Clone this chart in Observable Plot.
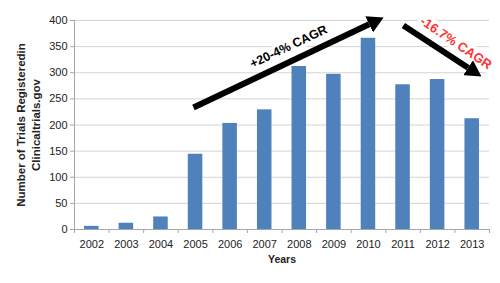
<!DOCTYPE html>
<html>
<head>
<meta charset="utf-8">
<script src="https://cdn.jsdelivr.net/npm/d3@7"></script>
<script src="https://cdn.jsdelivr.net/npm/@observablehq/plot@0.6"></script>
<style>
  html, body { margin: 0; padding: 0; background: #fff; }
</style>
</head>
<body>
<div id="chart"></div>
<script>
// Data
const years = [2002, 2003, 2004, 2005, 2006, 2007, 2008, 2009, 2010, 2011, 2012, 2013];
const trials = [6, 12, 24, 144, 203, 229, 312, 297, 366, 277, 287, 212];
const yTicks = [0, 50, 100, 150, 200, 250, 300, 350, 400];

// Annotations (in data units: year, number of trials)
const growthLabels = ["+20-4% CAGR", "-16.7% CAGR"];
const labelYear = [2007.69, 2012.53];
const labelValue = [350, 357];
const labelAngle = [-25.3, 34];
const labelSize = [12.5, 13];
const labelColor = ["#000000", "#ff3333"];
const arrowStartYear = [2004.94, 2011.01];
const arrowStartValue = [233.5, 390.4];
const arrowEndYear = [2010.02, 2012.88];
const arrowEndValue = [392.7, 309.7];

const bars = years.map((y, i) => ({year: y, value: trials[i]}));
const labels = growthLabels.map((t, i) => ({text: t, x: labelYear[i], y: labelValue[i], angle: labelAngle[i], size: labelSize[i], color: labelColor[i]}));
const arrows = arrowStartYear.map((x, i) => ({x1: x, y1: arrowStartValue[i], x2: arrowEndYear[i], y2: arrowEndValue[i]}));
const boundaries = years.map(y => y - 0.5).concat([years[years.length - 1] + 0.5]);

const arrowHead = (color) => {
  const m = d3.create("svg:marker")
    .attr("viewBox", "0 -9 16 18")
    .attr("markerWidth", 16)
    .attr("markerHeight", 18)
    .attr("refX", 0)
    .attr("refY", 0)
    .attr("orient", "auto")
    .attr("markerUnits", "userSpaceOnUse");
  m.append("path").attr("d", "M0,-9L16,0L0,9Z").attr("fill", color).attr("stroke", "none");
  return m.node();
};

const chart = Plot.plot({
  width: 500,
  height: 283,
  marginLeft: 74,
  marginRight: 11,
  marginTop: 20,
  marginBottom: 54,
  style: {fontFamily: "'Liberation Sans', Arial, sans-serif", fontSize: "11px", color: "#222", background: "#fff"},
  x: {type: "linear", domain: [boundaries[0], boundaries[boundaries.length - 1]]},
  y: {domain: [0, 400]},
  marks: [
    Plot.gridY(yTicks.slice(1), {stroke: "#d4d4d4", strokeOpacity: 1}),
    Plot.rectY(bars, {x1: d => d.year - 0.21, x2: d => d.year + 0.21, y: "value", fill: "#4f81bd"}),
    Plot.ruleY([0], {stroke: "#a6a6a6"}),
    Plot.ruleX([boundaries[0]], {stroke: "#a6a6a6"}),
    Plot.axisY({ticks: yTicks, tickSize: 4, tickPadding: 3, stroke: "#a6a6a6", fontSize: 11, label: null}),
    Plot.axisX({ticks: boundaries, tickSize: 4, tickFormat: () => "", stroke: "#a6a6a6", label: null}),
    Plot.axisX({ticks: years, tickSize: 0, tickPadding: 11, tickFormat: "d", fontSize: 11, label: null}),
    Plot.text(["Years"], {frameAnchor: "bottom", dy: 33, fontWeight: "bold", fontSize: 10.5, fill: "#222"}),
    Plot.text(["Number of Trials Registeredin\nClinicaltrials.gov"], {
      frameAnchor: "left", textAnchor: "middle", lineAnchor: "middle", dx: -47, rotate: -90,
      fontWeight: "bold", fontSize: 11.5, lineHeight: 1.3, fill: "#222"
    }),
    Plot.text(labels, {x: "x", y: "y", text: "text", rotate: "angle", fill: "color",
      fontWeight: "bold", fontSize: "size", stroke: "white", strokeWidth: 7}),
    Plot.link(arrows, {x1: "x1", y1: "y1", x2: "x2", y2: "y2", stroke: "black", strokeWidth: 6, markerEnd: arrowHead})
  ]
});
document.getElementById("chart").append(chart);
</script>
</body>
</html>
